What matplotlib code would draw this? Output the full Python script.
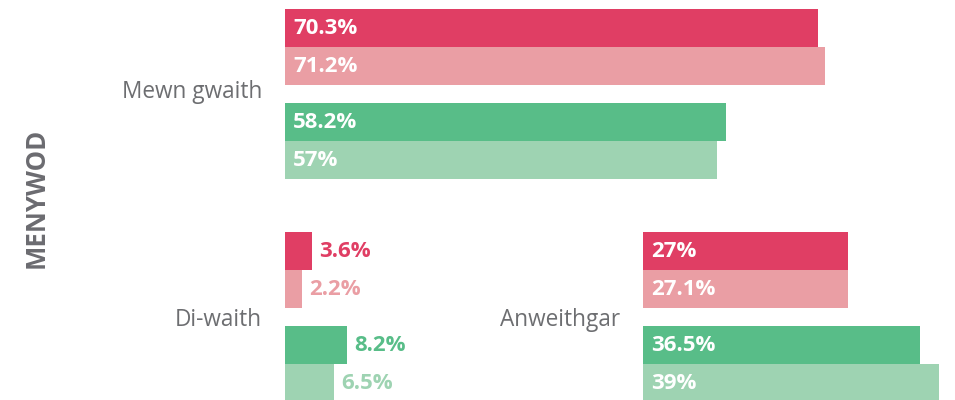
import matplotlib
matplotlib.use("Agg")
import matplotlib.pyplot as plt

plt.rcParams['font.family'] = ['Open Sans', 'DejaVu Sans']

# ---- data ----
row_title = "MENYWOD"
categories_left = ["Mewn gwaith", "Di-waith"]
categories_right = ["Anweithgar"]
series_names = ["Menywod A", "Menywod B", "Menywod C", "Menywod D"]
mewn_gwaith = [70.3, 71.2, 58.2, 57.0]
di_waith = [3.6, 2.2, 8.2, 6.5]
anweithgar = [27.0, 27.1, 36.5, 39.0]
value_labels_mewn = ["70.3%", "71.2%", "58.2%", "57%"]
value_labels_di = ["3.6%", "2.2%", "8.2%", "6.5%"]
value_labels_anw = ["27%", "27.1%", "36.5%", "39%"]

# ---- style / layout ----
colors = ["#E03E64", "#EA9EA4", "#58BD88", "#9ED3B2"]
W, H = 955, 400
px_per_unit = 7.58
bar_h = 38
gap = 18
row_top = [9, 232]
row_label_shift = [-2, 3]
label_color = "#6d6e71"

fig = plt.figure(figsize=(W / 100, H / 100), dpi=100)


def bar_centers(top):
    offs = [0, bar_h, 2 * bar_h + gap, 3 * bar_h + gap]
    return [top + o + bar_h / 2 for o in offs]


def make_ax(x0_px):
    width_px = W - x0_px
    ax = fig.add_axes([x0_px / W, 0, width_px / W, 1])
    ax.set_xlim(0, width_px / px_per_unit)
    ax.set_ylim(H, 0)
    ax.axis("off")
    return ax


def draw_group(ax, top, values, labels, cat, x0_px, shift):
    ys = bar_centers(top)
    ax.barh(ys, values, height=bar_h, color=colors, linewidth=0)
    for y, v, lab, c in zip(ys, values, labels, colors):
        if v > 10:
            ax.annotate(lab, (0, y), xytext=(6, -0.5), textcoords="offset points",
                        ha="left", va="center", color="white",
                        fontsize=16, fontweight="bold")
        else:
            ax.annotate(lab, (v, y), xytext=(5.2, -0.5), textcoords="offset points",
                        ha="left", va="center", color=c,
                        fontsize=16, fontweight="bold")
    cy = (ys[0] + ys[-1]) / 2 + shift
    fig.text((x0_px - 23) / W, 1 - cy / H, cat, ha="right", va="center",
             color=label_color, fontsize=16.3)


left_x0 = 285
right_x0 = 643
axL = make_ax(left_x0)
axR = make_ax(right_x0)

draw_group(axL, row_top[0], mewn_gwaith, value_labels_mewn, categories_left[0], left_x0, row_label_shift[0])
draw_group(axL, row_top[1], di_waith, value_labels_di, categories_left[1], left_x0, row_label_shift[1])
draw_group(axR, row_top[1], anweithgar, value_labels_anw, categories_right[0], right_x0, row_label_shift[1])

fig.text(36 / W, 1 - 198 / H, row_title, rotation=90, ha="center", va="center",
         color="#6b6b70", fontsize=18.5, fontweight="bold")

fig.savefig("out.png", dpi=100)
